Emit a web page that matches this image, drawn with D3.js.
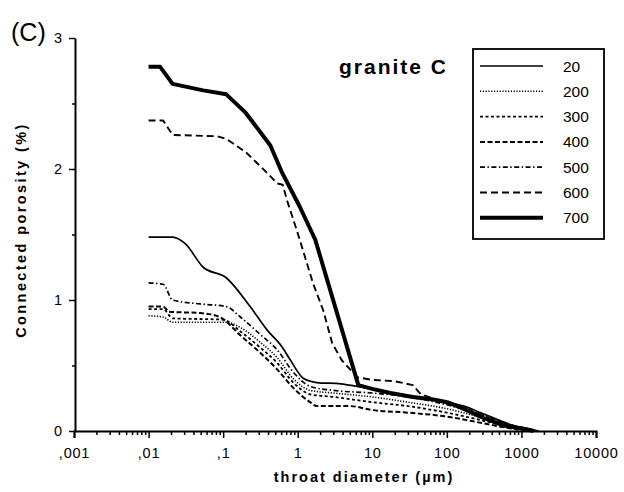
<!DOCTYPE html>
<html>
<head>
<meta charset="utf-8">
<script src="https://d3js.org/d3.v7.min.js"></script>
<style>
  body { margin: 0; background: #fff; }
  svg text { font-family: "Liberation Sans", Arial, Helvetica, sans-serif; fill: #000; }
</style>
</head>
<body>
<script>
// throat diameter (µm) vs connected porosity (%), one array per temperature
var s20  = [[0.01,1.48],[0.021,1.48],[0.031,1.43],[0.054,1.25],[0.11,1.17],[0.23,0.95],[0.39,0.77],[0.62,0.64],[0.8,0.54],[1.2,0.40],[1.8,0.37],[3.8,0.36],[6.3,0.34],[10,0.32],[30,0.27],[100,0.22],[170,0.19],[280,0.14],[420,0.10],[700,0.05],[1200,0.02],[1700,0]];
var s200 = [[0.01,0.88],[0.0157,0.87],[0.021,0.83],[0.11,0.83],[0.17,0.79],[0.31,0.68],[0.53,0.56],[0.87,0.40],[1.47,0.31],[3,0.29],[10,0.26],[30,0.22],[100,0.17],[300,0.10],[700,0.04],[1300,0]];
var s300 = [[0.01,0.93],[0.0157,0.93],[0.021,0.86],[0.1,0.85],[0.17,0.76],[0.31,0.64],[0.53,0.52],[0.87,0.37],[1.47,0.28],[3,0.26],[10,0.22],[30,0.19],[100,0.14],[300,0.08],[700,0.03],[1300,0]];
var s400 = [[0.01,0.95],[0.0157,0.95],[0.019,0.91],[0.05,0.90],[0.09,0.87],[0.17,0.73],[0.31,0.60],[0.53,0.47],[0.87,0.33],[1.47,0.22],[1.8,0.19],[5,0.19],[10,0.16],[30,0.14],[100,0.11],[300,0.06],[700,0.02],[1200,0]];
var s500 = [[0.01,1.13],[0.0157,1.12],[0.021,1.0],[0.049,0.97],[0.11,0.95],[0.17,0.87],[0.31,0.74],[0.53,0.62],[0.87,0.45],[1.47,0.34],[3,0.31],[10,0.29],[30,0.26],[100,0.20],[300,0.12],[700,0.05],[1000,0.02],[1500,0]];
var s600 = [[0.01,2.37],[0.0157,2.37],[0.021,2.26],[0.083,2.25],[0.11,2.23],[0.2,2.13],[0.39,1.97],[0.53,1.89],[0.63,1.88],[0.72,1.76],[1.0,1.51],[1.6,1.13],[2.2,0.92],[2.9,0.67],[3.9,0.54],[6.3,0.41],[10,0.39],[20,0.38],[35,0.35],[45,0.28],[100,0.21],[200,0.16],[400,0.09],[800,0.03],[1500,0]];
var s700 = [[0.01,2.78],[0.0143,2.78],[0.021,2.65],[0.054,2.60],[0.11,2.57],[0.2,2.43],[0.43,2.18],[0.62,1.97],[1.07,1.71],[1.72,1.46],[6.5,0.35],[10.3,0.32],[17.5,0.29],[35,0.26],[66,0.24],[101,0.22],[152,0.18],[309,0.10],[600,0.04],[1000,0.02],[1450,0]];

var seriesNames = ["20","200","300","400","500","600","700"];
var seriesData  = [s20, s200, s300, s400, s500, s600, s700];

var xTickValues = [0.001,0.01,0.1,1,10,100,1000,10000];
var xTickLabels = [",001",",01",",1","1","10","100","1000","10000"];
var yTickValues = [0,1,2,3];

// line looks, same order as seriesNames
var dashes = ["none","1.2,1.6","3,2.5","5,2.5","5,2.5,1.4,2.5","7,4","none"];
var widths = [1.7,1.6,1.8,2,1.7,1.9,4];
var smooth = [true,true,true,true,true,false,false];

var W = 624, H = 492;
var x = d3.scaleLog().domain([0.001,10000]).range([74,596]);
var y = d3.scaleLinear().domain([0,3]).range([431,38]);

var svg = d3.select("body").append("svg").attr("width",W).attr("height",H);

// minor ticks
var minorX = [];
for (var e = -3; e < 4; e++) for (var k = 2; k < 10; k++) minorX.push(k*Math.pow(10,e));

var gx = svg.append("g").attr("transform","translate(0,431)")
  .call(d3.axisBottom(x).tickValues(xTickValues).tickSizeOuter(0).tickSize(7)
        .tickFormat(function(d,i){ return xTickLabels[i]; }));
svg.append("g").attr("transform","translate(0,431)")
  .call(d3.axisBottom(x).tickValues(minorX).tickSize(4).tickFormat("").tickSizeOuter(0))
  .select(".domain").remove();
gx.selectAll("text").attr("font-size",14.5).attr("dy","1.15em").style("letter-spacing","0.8px");

var gy = svg.append("g").attr("transform","translate(75,0)")
  .call(d3.axisLeft(y).tickValues(yTickValues).tickSize(6).tickSizeOuter(0).tickFormat(d3.format("d")));
svg.append("g").attr("transform","translate(75,0)")
  .call(d3.axisLeft(y).tickValues([0.5,1.5,2.5]).tickSize(3).tickFormat(""))
  .select(".domain").remove();
gy.selectAll("text").attr("font-size",14.5).attr("x",-13);

svg.selectAll(".domain").attr("stroke","#000").attr("stroke-width",2);
svg.selectAll(".tick line").attr("stroke","#000").attr("stroke-width",1.5);

// curves
var lineSmooth = d3.line().curve(d3.curveMonotoneX)
  .x(function(d){ return x(d[0]); }).y(function(d){ return y(d[1]); });
var lineStraight = d3.line()
  .x(function(d){ return x(d[0]); }).y(function(d){ return y(d[1]); });
svg.append("g").selectAll("path").data(seriesData).enter().append("path")
  .attr("d", function(d,i){ return smooth[i] ? lineSmooth(d) : lineStraight(d); })
  .attr("fill","none").attr("stroke","#000")
  .attr("stroke-width", function(d,i){ return widths[i]; })
  .attr("stroke-dasharray", function(d,i){ return dashes[i]; })
  .attr("stroke-linejoin","round");

// legend
var lg = svg.append("g");
lg.append("rect").attr("x",473).attr("y",49).attr("width",131).attr("height",190)
  .attr("fill","#fff").attr("stroke","#000").attr("stroke-width",1.8);
seriesNames.forEach(function(n,i){
  var yy = 66 + i*25.3;
  lg.append("line").attr("x1",480).attr("x2",543).attr("y1",yy).attr("y2",yy)
    .attr("stroke","#000").attr("stroke-width",widths[i]).attr("stroke-dasharray",dashes[i]);
  lg.append("text").attr("x",563).attr("y",yy+5.5).attr("font-size",15.5).text(n);
});

// titles
svg.append("text").attr("x",339).attr("y",74).attr("font-size",21).attr("font-weight","bold")
  .style("letter-spacing","2px").text("granite C");
svg.append("text").attr("x",11).attr("y",41).attr("font-size",25).text("(C)");
svg.append("text").attr("x",364).attr("y",482).attr("text-anchor","middle")
  .attr("font-size",14.5).attr("font-weight","bold").style("letter-spacing","2px")
  .text("throat diameter  (µm)");
svg.append("text").attr("transform","translate(26,230) rotate(-90)").attr("text-anchor","middle")
  .attr("font-size",14.5).attr("font-weight","bold").style("letter-spacing","2.4px")
  .text("Connected  porosity  (%)");
</script>
</body>
</html>
